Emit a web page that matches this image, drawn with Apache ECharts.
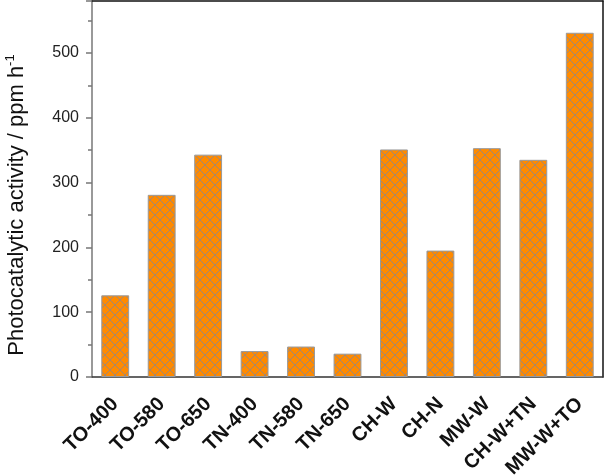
<!DOCTYPE html>
<html><head><meta charset="utf-8">
<script src="https://cdn.jsdelivr.net/npm/echarts@6/dist/echarts.min.js"></script>
<style>html,body{margin:0;padding:0;background:#fff}#c{width:605px;height:476px}</style>
</head><body><div id="c"></div>
<script>
const categories = ['TO-400','TO-580','TO-650','TN-400','TN-580','TN-650','CH-W','CH-N','MW-W','CH-W+TN','MW-W+TO'];
const activity = [126, 281, 343, 40, 47, 36, 351, 195, 353, 335, 531];
const yTicks = [0, 100, 200, 300, 400, 500];

function hatch() {
  const s = 10, c = document.createElement('canvas');
  c.width = s; c.height = s;
  const g = c.getContext('2d');
  g.fillStyle = '#FF8A00'; g.fillRect(0, 0, s, s);
  g.strokeStyle = 'rgba(135,135,145,0.8)'; g.lineWidth = 1;
  g.beginPath();
  g.moveTo(-1, -1); g.lineTo(s + 1, s + 1);
  g.moveTo(s + 1, -1); g.lineTo(-1, s + 1);
  g.stroke();
  return c;
}

const chart = echarts.init(document.getElementById('c'), null, {renderer: 'canvas'});
chart.setOption({
  animation: false,
  grid: {left: 92, right: 2, top: 1, bottom: 99, containLabel: false, outerBoundsMode: 'none'},
  xAxis: [{
    type: 'category', data: categories,
    axisLine: {lineStyle: {color: '#333', width: 1.5}},
    axisTick: {alignWithLabel: true, length: 7, lineStyle: {color: '#666', width: 1.5}},
    axisLabel: {rotate: 45, fontFamily: 'Liberation Sans, Arial', fontWeight: 'bold', fontSize: 20, color: '#111', margin: 24, interval: 0}
  }, {
    type: 'category', position: 'top', data: categories,
    axisLine: {onZero: false, lineStyle: {color: '#111', width: 1.5}},
    axisTick: {show: false}, axisLabel: {show: false}
  }],
  yAxis: [{
    type: 'value', min: 0, max: 580, interval: 100,
    name: '{a|Photocatalytic activity / ppm h}{s|-1}',
    nameLocation: 'middle', nameGap: 62,
    nameTextStyle: {padding: [0, 32, 0, 0], rich: {
      a: {fontFamily: 'Liberation Sans, Arial', fontSize: 22, color: '#111'},
      s: {fontFamily: 'Liberation Sans, Arial', fontSize: 13, color: '#111', verticalAlign: 'top', padding: [0, 0, 13, 0]}
    }},
    axisLine: {show: true, onZero: false, lineStyle: {color: '#777', width: 1.5}},
    axisTick: {show: true, length: 6, lineStyle: {color: '#777', width: 1.5}},
    minorTick: {show: true, splitNumber: 2, length: 4, lineStyle: {color: '#777', width: 1.5}},
    splitLine: {show: false},
    axisLabel: {fontFamily: 'Liberation Sans, Arial', fontSize: 16, color: '#222', margin: 13,
      formatter: v => yTicks.includes(v) ? String(v) : ''}
  }, {
    type: 'value', position: 'right', min: 0, max: 580,
    axisLine: {show: true, onZero: false, lineStyle: {color: '#111', width: 1.5}},
    axisTick: {show: false}, axisLabel: {show: false}, splitLine: {show: false}
  }],
  series: [{
    type: 'bar', data: activity, barCategoryGap: '40%',
    itemStyle: {color: {image: hatch(), repetition: 'repeat'}, borderColor: '#999', borderWidth: 1}
  }]
});
</script></body></html>
